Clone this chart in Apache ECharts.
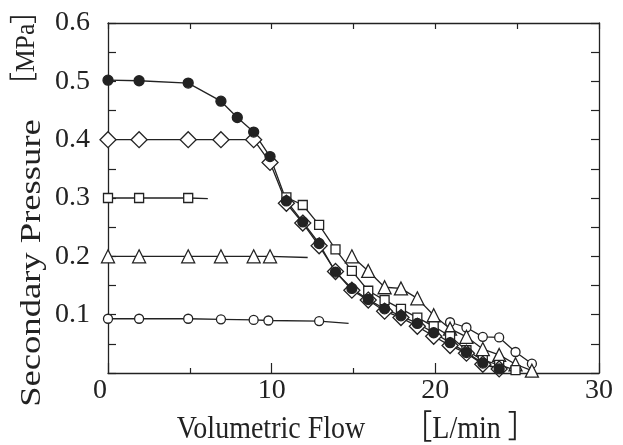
<!DOCTYPE html>
<html>
<head>
<meta charset="utf-8">
<script src="https://cdn.jsdelivr.net/npm/echarts@6/dist/echarts.min.js"></script>
<style>html,body{margin:0;padding:0;background:#fff}#c{width:623px;height:445px}</style>
</head>
<body>
<div id="c"></div>
<script>
// Data (x: L/min, y: MPa)
const filledX = [0, 1.9, 4.9, 6.9, 7.9, 8.9, 9.9, 10.9, 11.9, 12.9, 13.9, 14.9, 15.9, 16.9, 17.9, 18.9, 19.9, 20.9, 21.9, 22.9, 23.9];
const filledY = [0.502, 0.501, 0.497, 0.466, 0.438, 0.413, 0.371, 0.295, 0.259, 0.222, 0.173, 0.145, 0.126, 0.110, 0.098, 0.085, 0.069, 0.052, 0.035, 0.017, 0.007];

const diamondX = [0, 1.9, 4.9, 6.9, 8.9, 9.9, 10.9, 11.9, 12.9, 13.9, 14.9, 15.9, 16.9, 17.9, 18.9, 19.9, 20.9, 21.9, 22.9, 23.9];
const diamondY = [0.400, 0.400, 0.400, 0.400, 0.400, 0.361, 0.291, 0.257, 0.218, 0.174, 0.142, 0.125, 0.106, 0.095, 0.080, 0.063, 0.047, 0.034, 0.015, 0.007];

const squareFlatX = [0, 1.9, 4.9];
const squareFlatY = [0.300, 0.300, 0.300];
const squareTail = [6.1, 0.299];
const squareDropX = [10.9, 11.9, 12.9, 13.9, 14.9, 15.9, 16.9, 17.9, 18.9, 19.9, 20.9, 21.9, 22.9, 23.9, 24.9];
const squareDropY = [0.301, 0.288, 0.254, 0.212, 0.175, 0.141, 0.125, 0.110, 0.095, 0.080, 0.063, 0.039, 0.022, 0.014, 0.005];

const triFlatX = [0, 1.9, 4.9, 6.9, 8.9, 9.9];
const triFlatY = [0.200, 0.200, 0.200, 0.200, 0.200, 0.200];
const triTail = [12.2, 0.198];
const triDropX = [14.9, 15.9, 16.9, 17.9, 18.9, 19.9, 20.9, 21.9, 22.9, 23.9, 24.9, 25.9];
const triDropY = [0.200, 0.175, 0.147, 0.145, 0.128, 0.099, 0.076, 0.062, 0.041, 0.031, 0.015, 0.004];

const circFlatX = [0, 1.9, 4.9, 6.9, 8.9, 9.8, 12.9];
const circFlatY = [0.093, 0.093, 0.093, 0.092, 0.091, 0.090, 0.089];
const circTail = [14.7, 0.085];
const circDropX = [20.9, 21.9, 22.9, 23.9, 24.9, 25.9];
const circDropY = [0.087, 0.078, 0.062, 0.061, 0.036, 0.016];

const xTicks = [0, 10, 20, 30];
const yTickLabels = ['0.1', '0.2', '0.3', '0.4', '0.5', '0.6'];
const xTitle = 'Volumetric Flow';
const xUnit = '［L/min ］';
const yTitle = 'Secondary Pressure';
const yUnit = '［MPa］';

const FONT = '"Liberation Serif", "Times New Roman", serif';
const INK = '#222';

function pts(xs, ys, tail) {
  const d = xs.map((x, i) => [x, ys[i]]);
  if (tail) d.push({ value: tail, symbol: 'none' });
  return d;
}
function lineSeries(data, symbol, size, filled) {
  return {
    type: 'line', data: data, symbol: symbol, symbolSize: size,
    showSymbol: true, animation: false, clip: false,
    lineStyle: { color: INK, width: 1.3 },
    itemStyle: { color: filled ? INK : '#fff', borderColor: INK, borderWidth: 1.3 },
    emphasis: { disabled: true }
  };
}

const chart = echarts.init(document.getElementById('c'));
chart.setOption({
  backgroundColor: '#fff',
  animation: false,
  grid: { left: 108, top: 23, right: 24, bottom: 72 },
  xAxis: [{
    type: 'value', min: 0, max: 30, interval: 10, position: 'bottom',
    axisLine: { show: true, onZero: false, lineStyle: { color: INK, width: 1.3 } },
    axisTick: { show: true, inside: true, length: 10, lineStyle: { color: INK, width: 1.2 } },
    minorTick: { show: true, splitNumber: 2, length: 5, lineStyle: { color: INK, width: 1.2 } },
    splitLine: { show: false },
    axisLabel: {
      fontFamily: FONT, fontSize: 28, color: INK, margin: 4,
      formatter: function (v) {
        if (xTicks.indexOf(v) < 0) return '';
        return v === 0 ? '{z|0}' : String(v);
      },
      rich: { z: { fontFamily: FONT, fontSize: 28, color: INK, padding: [0, 16, 0, 0] } }
    }
  }, {
    type: 'value', min: 0, max: 30, interval: 5, position: 'top',
    axisLine: { show: true, onZero: false, lineStyle: { color: INK, width: 1.3 } },
    axisTick: { show: true, inside: true, length: 6, lineStyle: { color: INK, width: 1.2 } },
    axisLabel: { show: false }, splitLine: { show: false }
  }],
  yAxis: [{
    type: 'value', min: 0, max: 0.6, interval: 0.05, position: 'left',
    axisLine: { show: true, onZero: false, lineStyle: { color: INK, width: 1.3 } },
    axisTick: { show: true, inside: true, length: 8, lineStyle: { color: INK, width: 1.2 } },
    splitLine: { show: false },
    axisLabel: {
      fontFamily: FONT, fontSize: 28, color: INK, margin: 18,
      formatter: function (v) {
        const k = Math.round(v * 100);
        if (k === 0 || k % 10 !== 0) return '';
        return yTickLabels[k / 10 - 1];
      }
    }
  }, {
    type: 'value', min: 0, max: 0.6, interval: 0.05, position: 'right',
    axisLine: { show: true, onZero: false, lineStyle: { color: INK, width: 1.3 } },
    axisTick: { show: true, inside: true, length: 8, lineStyle: { color: INK, width: 1.2 } },
    axisLabel: { show: false }, splitLine: { show: false }
  }],
  series: [
    lineSeries(pts(circFlatX, circFlatY, circTail), 'circle', 9, false),
    lineSeries(pts(circDropX, circDropY), 'circle', 9, false),
    lineSeries(pts(triFlatX, triFlatY, triTail), 'triangle', 13, false),
    lineSeries(pts(triDropX, triDropY), 'triangle', 13, false),
    lineSeries(pts(squareFlatX, squareFlatY, squareTail), 'rect', 9, false),
    lineSeries(pts(squareDropX, squareDropY), 'rect', 9, false),
    lineSeries(pts(diamondX, diamondY), 'diamond', 16, false),
    lineSeries(pts(filledX, filledY), 'circle', 10, true)
  ],
  graphic: [
    { type: 'text', x: 271, y: 430, scaleY: 1.12, style: { text: xTitle, font: '28px ' + FONT, fill: INK, align: 'center', verticalAlign: 'middle' } },
    { type: 'text', x: 470, y: 430, scaleY: 1.12, style: { text: xUnit, font: '28px ' + FONT + ', "Noto Sans CJK JP"', fill: INK, align: 'center', verticalAlign: 'middle' } },
    { type: 'text', x: 32, y: 263, rotation: Math.PI / 2, scaleX: 1.22, style: { text: yTitle, font: '30px ' + FONT, fill: INK, align: 'center', verticalAlign: 'middle' } },
    { type: 'text', x: 27, y: 48, rotation: Math.PI / 2, scaleX: 0.92, style: { text: yUnit, font: '28px ' + FONT + ', "Noto Sans CJK JP"', fill: INK, align: 'center', verticalAlign: 'middle' } }
  ]
});
</script>
</body>
</html>
